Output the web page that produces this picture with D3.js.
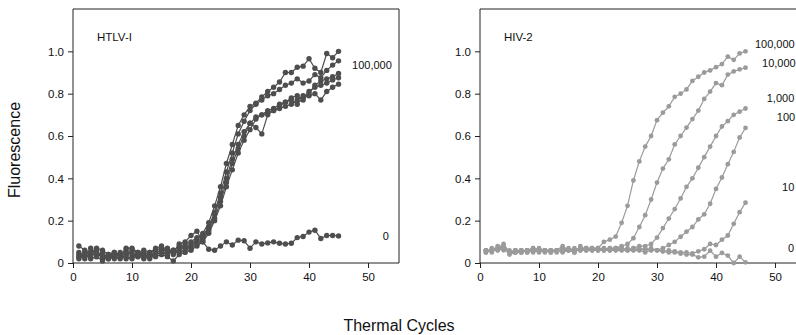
<!DOCTYPE html>
<html>
<head>
<meta charset="utf-8">
<script src="https://cdn.jsdelivr.net/npm/d3@7"></script>
<style>
  html, body { margin: 0; padding: 0; background: #fff; }
  svg { display: block; font-family: "Liberation Sans", Arial, Helvetica, sans-serif; }
</style>
</head>
<body>
<svg id="chart" width="796" height="335"></svg>
<script>
// Real-time PCR amplification curves, cycles 1–45
const cycles = d3.range(1, 46);

const xTicks = [0, 10, 20, 30, 40, 50];
const yTicks = [0, 0.2, 0.4, 0.6, 0.8, 1.0];
const yTickLabels = ["0", "0.2", "0.4", "0.6", "0.8", "1.0"];

// HTLV-I: five replicates at 100,000 copies, plus no-template control
const htlvRep1 = [0.03,0.05,0.04,0.06,0.02,0.04,0.03,0.05,0.04,0.06,0.05,0.04,0.05,0.06,0.07,0.05,0.06,0.08,0.07,0.09,
  0.11,0.14,0.19,0.27,0.36,0.47,0.56,0.65,0.70,0.74,0.755,0.785,0.81,0.83,0.855,0.90,0.90,0.925,0.93,0.965,0.92,0.90,0.99,0.97,1.0];
const htlvRep2 = [0.05,0.03,0.07,0.04,0.05,0.02,0.04,0.03,0.06,0.04,0.03,0.05,0.04,0.05,0.06,0.07,0.05,0.07,0.09,0.10,
  0.12,0.13,0.17,0.24,0.33,0.43,0.52,0.61,0.67,0.72,0.75,0.77,0.79,0.80,0.82,0.84,0.85,0.87,0.85,0.86,0.89,0.875,0.91,0.935,0.955];
const htlvRep3 = [0.02,0.04,0.03,0.05,0.03,0.02,0.03,0.02,0.04,0.05,0.03,0.04,0.02,0.04,0.05,0.04,0.06,0.05,0.06,0.08,
  0.10,0.12,0.16,0.23,0.31,0.40,0.49,0.56,0.62,0.66,0.69,0.70,0.72,0.73,0.75,0.76,0.78,0.79,0.77,0.80,0.84,0.86,0.87,0.88,0.895];
const htlvRep4 = [0.04,0.02,0.05,0.03,0.04,0.03,0.05,0.04,0.02,0.03,0.04,0.03,0.04,0.03,0.04,0.06,0.04,0.06,0.08,0.07,
  0.09,0.11,0.15,0.21,0.29,0.38,0.47,0.54,0.60,0.66,0.64,0.61,0.70,0.72,0.74,0.76,0.77,0.75,0.78,0.81,0.83,0.84,0.85,0.865,0.875];
const htlvRep5 = [0.03,0.04,0.02,0.03,0.01,0.03,0.02,0.03,0.03,0.02,0.04,0.02,0.03,0.05,0.04,0.03,0.01,0.04,0.05,0.06,
  0.08,0.10,0.14,0.20,0.27,0.36,0.44,0.52,0.58,0.63,0.68,0.70,0.71,0.72,0.73,0.74,0.75,0.77,0.79,0.79,0.80,0.77,0.81,0.83,0.845];
const htlvNone = [0.08,0.06,0.05,0.07,0.06,0.04,0.05,0.03,0.07,0.07,0.05,0.06,0.05,0.07,0.08,0.06,0.05,0.09,0.10,0.13,
  0.15,0.10,0.065,0.06,0.08,0.10,0.085,0.108,0.105,0.07,0.10,0.09,0.095,0.10,0.093,0.09,0.093,0.12,0.125,0.146,0.155,0.116,0.13,0.13,0.128];

// HIV-2: tenfold dilution series 100,000 → 10, plus no-template control
const hiv100000 = [0.06,0.05,0.07,0.09,0.05,0.06,0.05,0.06,0.06,0.06,0.06,0.06,0.05,0.07,0.06,0.06,0.07,0.07,0.06,0.07,
  0.10,0.11,0.125,0.19,0.27,0.39,0.48,0.55,0.60,0.675,0.71,0.74,0.785,0.80,0.82,0.86,0.88,0.90,0.91,0.925,0.94,0.975,0.96,0.99,1.0];
const hiv10000 = [0.05,0.06,0.08,0.07,0.04,0.05,0.06,0.05,0.07,0.06,0.05,0.06,0.06,0.08,0.06,0.05,0.08,0.06,0.07,0.07,
  0.06,0.07,0.07,0.08,0.09,0.117,0.17,0.226,0.30,0.38,0.446,0.49,0.56,0.60,0.64,0.68,0.72,0.775,0.81,0.85,0.84,0.89,0.905,0.915,0.923];
const hiv1000 = [0.06,0.06,0.06,0.08,0.05,0.05,0.05,0.06,0.06,0.05,0.06,0.05,0.06,0.06,0.06,0.06,0.06,0.07,0.06,0.06,
  0.07,0.06,0.07,0.07,0.06,0.07,0.08,0.08,0.09,0.12,0.165,0.21,0.255,0.305,0.36,0.40,0.45,0.50,0.55,0.60,0.645,0.67,0.70,0.715,0.73];
const hiv100 = [0.05,0.07,0.06,0.07,0.06,0.05,0.06,0.06,0.05,0.06,0.06,0.06,0.06,0.05,0.06,0.07,0.06,0.06,0.07,0.06,
  0.06,0.07,0.06,0.06,0.07,0.06,0.07,0.06,0.07,0.06,0.07,0.085,0.10,0.124,0.148,0.17,0.206,0.23,0.28,0.35,0.404,0.467,0.525,0.593,0.638];
const hiv10 = [0.06,0.06,0.07,0.06,0.05,0.06,0.05,0.06,0.07,0.06,0.06,0.05,0.06,0.06,0.06,0.05,0.07,0.06,0.06,0.07,
  0.06,0.06,0.07,0.06,0.06,0.07,0.06,0.07,0.06,0.06,0.055,0.06,0.055,0.05,0.05,0.045,0.055,0.065,0.09,0.085,0.11,0.13,0.185,0.24,0.285];
const hivNone = [0.06,0.06,0.07,0.08,0.05,0.06,0.06,0.05,0.06,0.07,0.06,0.06,0.06,0.06,0.07,0.06,0.06,0.07,0.07,0.06,
  0.07,0.06,0.06,0.07,0.06,0.06,0.06,0.05,0.06,0.06,0.055,0.05,0.05,0.045,0.04,0.04,0.027,0.03,0.058,0.03,0.048,0.035,0.0,0.03,0.003];

const htlvSeries = [htlvRep1, htlvRep2, htlvRep3, htlvRep4, htlvRep5, htlvNone];
const hivSeries = [hiv100000, hiv10000, hiv1000, hiv100, hiv10, hivNone];

const htlvLabels = ["100,000", "0"];
const hivLabels = ["100,000", "10,000", "1,000", "100", "10", "0"];

const svg = d3.select("#chart");
const W = 326, H = 254, TOP = 9;

// label anchors in (cycle, fluorescence) space, right of each curve end
const htlvLabelAt = [[47.3, 0.935], [52.5, 0.128]];
const hivLabelAt = [[46.6, 1.034], [47.8, 0.946], [48.6, 0.78], [50.3, 0.688], [51.2, 0.36], [52.2, 0.07]];

function panel(left, title, series, color, r, labels, labelAt) {
  const g = svg.append("g").attr("transform", `translate(${left},${TOP})`);
  const x = d3.scaleLinear().domain([0, 55.25]).range([0, W]);
  const y = d3.scaleLinear().domain([0, 1.2]).range([H, 0]);

  // frame: top and right edges
  g.append("path")
    .attr("d", `M0,0H${W}V${H}`)
    .attr("fill", "none").attr("stroke", "#222").attr("stroke-width", 1);

  const yAxis = g.append("g")
    .call(d3.axisLeft(y).tickValues(yTicks).tickFormat((d, i) => yTickLabels[i]).tickSize(5).tickPadding(4));
  const xAxis = g.append("g").attr("transform", `translate(0,${H})`)
    .call(d3.axisBottom(x).tickValues(xTicks).tickSize(5).tickPadding(5));
  [yAxis, xAxis].forEach(a => {
    a.selectAll("path,line").attr("stroke", "#222");
    a.selectAll("text").attr("font-size", 11.5).attr("fill", "#111")
      .attr("font-family", "Liberation Sans, Arial, sans-serif");
  });
  xAxis.select(".domain").attr("d", `M0,0H${W}`);
  yAxis.select(".domain").attr("d", `M0,0V${H}`);

  g.append("text").attr("x", 24).attr("y", 32)
    .attr("font-size", 11.5).attr("fill", "#111").text(title);

  const line = d3.line().x((d, i) => x(cycles[i])).y(d => y(d));
  series.forEach(s => {
    g.append("path").datum(s).attr("d", line)
      .attr("fill", "none").attr("stroke", color).attr("stroke-width", 1.2);
    g.selectAll(null).data(s).enter().append("circle")
      .attr("cx", (d, i) => x(cycles[i])).attr("cy", d => y(d))
      .attr("r", r).attr("fill", color);
  });

  labels.forEach((t, i) => {
    g.append("text")
      .attr("x", x(labelAt[i][0])).attr("y", y(labelAt[i][1]))
      .attr("dy", "0.35em")
      .attr("font-size", 11).attr("fill", "#111").text(t);
  });
}

panel(73, "HTLV-I", htlvSeries, "#4e4e4e", 2.7, htlvLabels, htlvLabelAt);
panel(480, "HIV-2", hivSeries, "#9b9b9b", 2.4, hivLabels, hivLabelAt);

// axis titles
svg.append("text")
  .attr("transform", "translate(20,150) rotate(-90)")
  .attr("text-anchor", "middle").attr("font-size", 16).attr("fill", "#111")
  .text("Fluorescence");
svg.append("text")
  .attr("x", 399).attr("y", 331)
  .attr("text-anchor", "middle").attr("font-size", 16).attr("fill", "#111")
  .text("Thermal Cycles");
</script>
</body>
</html>
